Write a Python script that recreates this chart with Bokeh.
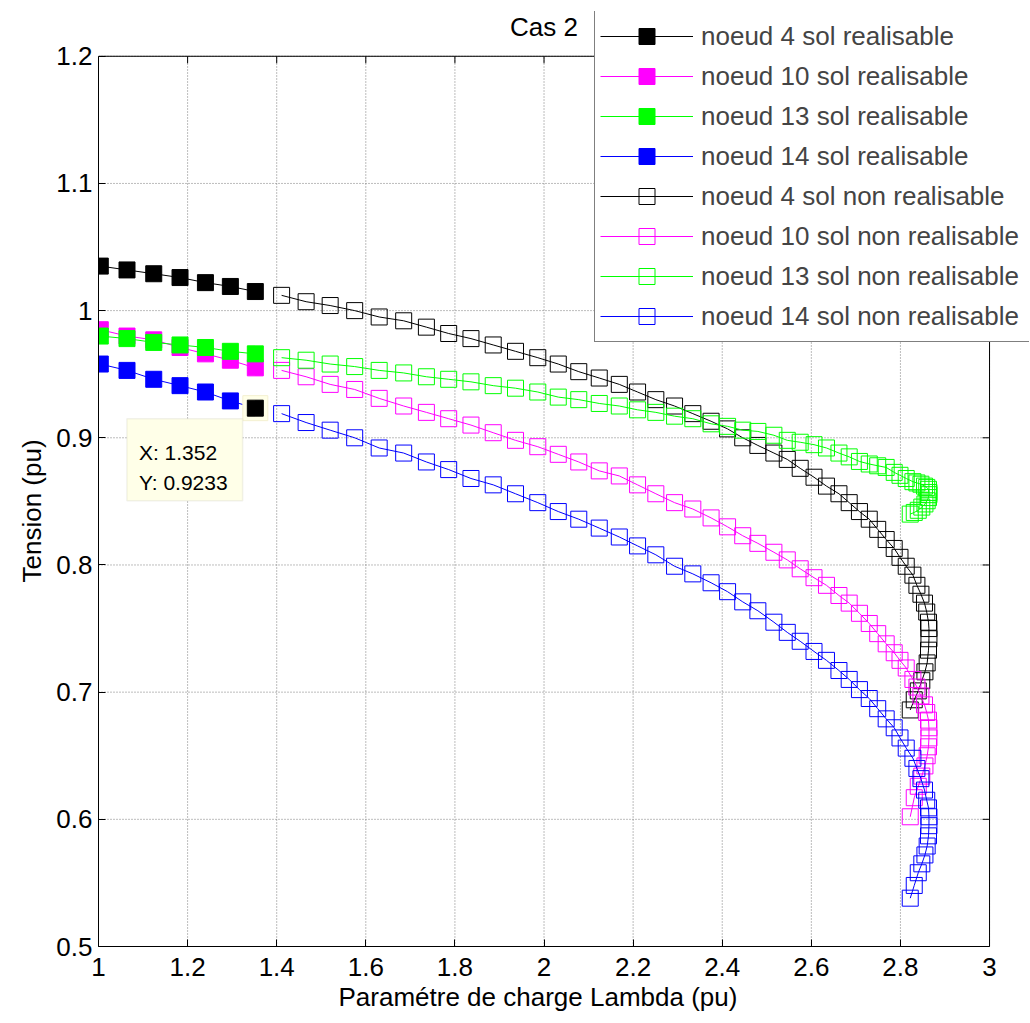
from bokeh.plotting import figure
from bokeh.models import (ColumnDataSource, Legend, LegendItem, FixedTicker,
                          Range1d, Label, BoxAnnotation, Title)
from bokeh.embed import file_html
from bokeh.resources import INLINE

# ---------------- data ----------------
# feasible (realisable) solutions
lam_r = [1.004, 1.064, 1.124, 1.183, 1.240, 1.296, 1.352]
v4_r = [1.035, 1.032, 1.029, 1.026, 1.022, 1.019, 1.015]
v10_r = [0.985, 0.980, 0.977, 0.971, 0.966, 0.961, 0.955]
v13_r = [0.980, 0.978, 0.975, 0.973, 0.971, 0.968, 0.966]
v14_r = [0.958, 0.953, 0.946, 0.941, 0.936, 0.929, 0.9233]

# non feasible (non realisable) solutions
lam_n = [1.411, 1.466, 1.520, 1.575, 1.630, 1.685, 1.736, 1.786, 1.836, 1.886,
         1.936, 1.986, 2.032, 2.078, 2.124, 2.169, 2.210, 2.251, 2.293, 2.334,
         2.375, 2.412, 2.446, 2.480, 2.516, 2.546, 2.575, 2.606, 2.634, 2.662,
         2.685, 2.708, 2.730, 2.749, 2.768, 2.786, 2.799, 2.813, 2.828, 2.837,
         2.846, 2.854, 2.859, 2.863, 2.864, 2.864, 2.863, 2.860, 2.855, 2.848,
         2.840, 2.831, 2.822]
v4_n = [1.012, 1.007, 1.004, 1.000, 0.995, 0.992, 0.987, 0.982, 0.978, 0.973,
        0.968, 0.963, 0.958, 0.952, 0.947, 0.942, 0.936, 0.930, 0.925, 0.919,
        0.913, 0.907, 0.900, 0.894, 0.888, 0.883, 0.876, 0.869, 0.862, 0.856,
        0.849, 0.842, 0.836, 0.828, 0.820, 0.813, 0.806, 0.799, 0.792, 0.784,
        0.777, 0.770, 0.763, 0.755, 0.750, 0.742, 0.733, 0.723, 0.716, 0.709,
        0.701, 0.694, 0.686]
v10_n = [0.953, 0.948, 0.942, 0.938, 0.931, 0.925, 0.920, 0.915, 0.910, 0.904,
         0.898, 0.893, 0.887, 0.881, 0.874, 0.870, 0.863, 0.856, 0.849, 0.844,
         0.837, 0.830, 0.823, 0.817, 0.810, 0.804, 0.797, 0.790, 0.784, 0.776,
         0.770, 0.762, 0.754, 0.746, 0.738, 0.731, 0.725, 0.719, 0.710, 0.704,
         0.697, 0.690, 0.684, 0.678, 0.672, 0.664, 0.657, 0.650, 0.642, 0.634,
         0.626, 0.617, 0.602]
v13_n = [0.963, 0.961, 0.958, 0.956, 0.953, 0.951, 0.948, 0.946, 0.944, 0.941,
         0.939, 0.936, 0.932, 0.930, 0.927, 0.925, 0.922, 0.920, 0.917, 0.915,
         0.911, 0.909, 0.906, 0.905, 0.902, 0.898, 0.8965, 0.8946, 0.892, 0.888,
         0.885, 0.8814, 0.8794, 0.878, 0.8767, 0.8728, 0.8705, 0.868, 0.8655, 0.8645,
         0.8635, 0.862, 0.861, 0.8595, 0.857, 0.8553, 0.853, 0.8505, 0.848, 0.8455,
         0.843, 0.8413, 0.840]
v14_n = [0.919, 0.912, 0.906, 0.900, 0.892, 0.888, 0.881, 0.875, 0.868, 0.863,
         0.856, 0.849, 0.842, 0.836, 0.829, 0.822, 0.815, 0.808, 0.799, 0.793,
         0.786, 0.779, 0.771, 0.764, 0.755, 0.747, 0.740, 0.732, 0.725, 0.717,
         0.710, 0.702, 0.695, 0.687, 0.679, 0.672, 0.664, 0.656, 0.648, 0.640,
         0.632, 0.623, 0.615, 0.609, 0.602, 0.595, 0.587, 0.579, 0.572, 0.565,
         0.558, 0.548, 0.538]

x_ticks = [1.0, 1.2, 1.4, 1.6, 1.8, 2.0, 2.2, 2.4, 2.6, 2.8, 3.0]
x_tick_labels = ["1", "1.2", "1.4", "1.6", "1.8", "2", "2.2", "2.4", "2.6", "2.8", "3"]
y_ticks = [0.5, 0.6, 0.7, 0.8, 0.9, 1.0, 1.1, 1.2]
y_tick_labels = ["0.5", "0.6", "0.7", "0.8", "0.9", "1", "1.1", "1.2"]

labels_r = ["noeud 4 sol realisable", "noeud 10 sol realisable",
            "noeud 13 sol realisable", "noeud 14 sol realisable"]
labels_n = ["noeud 4 sol non realisable", "noeud 10 sol non realisable",
            "noeud 13 sol non realisable", "noeud 14 sol non realisable"]
colors = ["#000000", "#FF00FF", "#00FF00", "#0000FF"]
title_text = "Cas 2"
x_label = "Paramétre de charge Lambda (pu)"
y_label = "Tension (pu)"

FONT = "Liberation Sans"

# axes box (the data frame extends a little beyond it, so the legend can overhang)
X0, X1 = x_ticks[0], x_ticks[-1]
Y0, Y1 = y_ticks[0], y_ticks[-1]
X_END = 3.0897   # room on the right for the overhanging legend
Y_END = 1.2352   # room above for the title and the legend
TICK_X = 7 / 445.7
TICK_Y = 7 / 1271.0

# ---------------- figure ----------------
p = figure(width=1030, height=1023, x_range=Range1d(X0, X_END), y_range=Range1d(Y0, Y_END),
           output_backend="svg", toolbar_location=None,
           min_border_left=98, min_border_right=1, min_border_top=11, min_border_bottom=77)
p.background_fill_color = "white"
p.border_fill_color = "white"
p.outline_line_color = None
p.grid.visible = False

p.xaxis.ticker = FixedTicker(ticks=x_ticks)
p.xaxis.major_label_overrides = dict(zip(x_ticks, x_tick_labels))
p.xaxis.bounds = (X0, X1)
p.yaxis.ticker = FixedTicker(ticks=y_ticks)
p.yaxis.major_label_overrides = dict(zip(y_ticks, y_tick_labels))
p.yaxis.bounds = (Y0, Y1)

for ax in (p.xaxis[0], p.yaxis[0]):
    ax.major_label_text_font = FONT
    ax.major_label_text_font_size = "26px"
    ax.major_tick_in = 7
    ax.major_tick_out = 0
    ax.minor_tick_line_color = None
    ax.axis_line_color = "black"
    ax.major_tick_line_color = "black"
    ax.major_label_text_color = "black"
p.xaxis.major_label_standoff = 11
p.yaxis.major_label_standoff = 6

# axis titles, centred on the axes box (not on the wider data frame)
xt = Title(text=x_label, align="left", offset=240, text_font=FONT, text_font_size="26px",
           text_font_style="normal", text_color="black", standoff=3)
yt = Title(text=y_label, align="left", offset=364, text_font=FONT, text_font_size="26px",
           text_font_style="normal", text_color="black", standoff=13)
p.add_layout(xt, "below")
p.add_layout(yt, "left")

# grid lines (dotted) inside the axes box
p.segment(x0=x_ticks, y0=[Y0] * len(x_ticks), x1=x_ticks, y1=[Y1] * len(x_ticks),
          line_color="#7a7a7a", line_dash="1 2", line_width=1)
p.segment(x0=[X0] * len(y_ticks), y0=y_ticks, x1=[X1] * len(y_ticks), y1=y_ticks,
          line_color="#7a7a7a", line_dash="1 2", line_width=1)

# top / right edges of the axes box with inward ticks
p.segment(x0=[X0, X1], y0=[Y1, Y0], x1=[X1, X1], y1=[Y1, Y1], line_color="black", line_width=1)
p.segment(x0=x_ticks, y0=[Y1] * len(x_ticks), x1=x_ticks, y1=[Y1 - TICK_Y] * len(x_ticks),
          line_color="black", line_width=1)
p.segment(x0=[X1] * len(y_ticks), y0=y_ticks, x1=[X1 - TICK_X] * len(y_ticks), y1=y_ticks,
          line_color="black", line_width=1)

# ---------------- series ----------------
items = []
vals_r = [v4_r, v10_r, v13_r, v14_r]
vals_n = [v4_n, v10_n, v13_n, v14_n]

for vals, lab, col in zip(vals_r, labels_r, colors):
    src = ColumnDataSource(dict(x=lam_r, y=vals))
    ln = p.line("x", "y", source=src, line_color=col, line_width=1)
    sc = p.scatter("x", "y", source=src, marker="square", size=16,
                   fill_color=col, line_color=col, line_width=1)
    items.append(LegendItem(label=lab, renderers=[ln, sc]))

for vals, lab, col in zip(vals_n, labels_n, colors):
    src = ColumnDataSource(dict(x=lam_n, y=vals))
    ln = p.line("x", "y", source=src, line_color=col, line_width=1)
    sc = p.scatter("x", "y", source=src, marker="square", size=16,
                   fill_color=None, line_color=col, line_width=1)
    items.append(LegendItem(label=lab, renderers=[ln, sc]))

# ---------------- data tip ----------------
tip_src = ColumnDataSource(dict(x=[lam_r[-1]], y=[v14_r[-1]]))
p.scatter("x", "y", source=tip_src, marker="square", size=25,
          fill_color="#FFFFE8", line_color="#F4F0D0", line_width=1)
p.scatter("x", "y", source=tip_src, marker="square", size=16,
          fill_color="black", line_color="black")

box = BoxAnnotation(left=1.0638, right=1.3235, top=0.915, bottom=0.8505,
                    fill_color="#FFFFE8", fill_alpha=1.0,
                    line_color="#CFCFC0", line_width=1.5)
p.add_layout(box)
p.add_layout(Label(x=1.0907, y=0.8885, text=f"X: {lam_r[-1]}", text_font=FONT,
                   text_font_size="21px", text_baseline="alphabetic", text_color="black"))
p.add_layout(Label(x=1.0907, y=0.8649, text=f"Y: {v14_r[-1]}", text_font=FONT,
                   text_font_size="21px", text_baseline="alphabetic", text_color="black"))

# ---------------- title ----------------
p.add_layout(Label(x=(X0 + X1) / 2, y=1.2227, text=title_text, text_font=FONT,
                   text_font_size="26px", text_align="center", text_baseline="middle",
                   text_color="black"))

# ---------------- legend ----------------
legend = Legend(items=items, location=(496, 604), glyph_width=93, glyph_height=40,
                label_height=40, label_width=324, spacing=0, padding=5, margin=0,
                label_standoff=8,
                label_text_font=FONT, label_text_font_size="26px",
                border_line_color="black", border_line_width=1.5,
                background_fill_color="white", background_fill_alpha=1.0)
p.add_layout(legend)

open("out.html", "w").write(file_html(p, INLINE))
